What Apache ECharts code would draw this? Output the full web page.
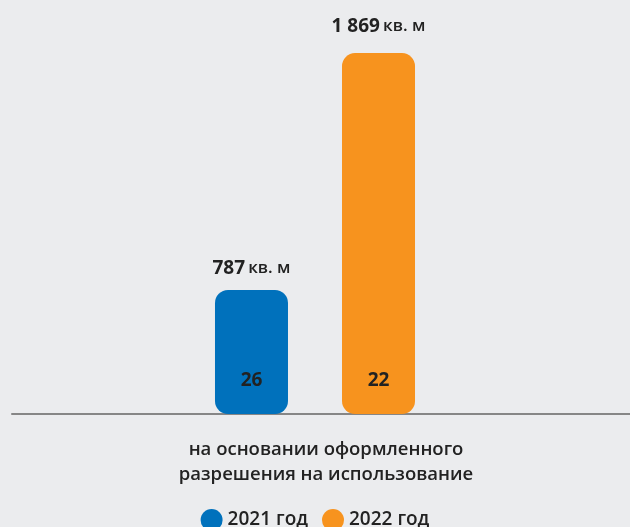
<!DOCTYPE html>
<html><head><meta charset="utf-8">
<script src="https://cdn.jsdelivr.net/npm/echarts@6/dist/echarts.min.js"></script>
<style>html,body{margin:0;padding:0;background:#ebecee;}#c{width:630px;height:527px;}</style>
</head><body><div id="c"></div>
<script>
const categories = ['на основании оформленного\nразрешения на использование'];
const seriesNames = ['2021 год', '2022 год'];
const areaValues = [787, 1869];   // кв. м
const countValues = [26, 22];
const colors = ['#0071bc', '#f7931e'];
const unit = 'кв. м';

const chart = echarts.init(document.getElementById('c'));
const font = 'Open Sans';
const topLabelDistance = [12, 17];
chart.setOption({
  backgroundColor: '#ebecee',
  animation: false,
  textStyle: { fontFamily: font },
  legend: {
    data: seriesNames,
    top: 504, left: 'center',
    icon: 'circle', itemWidth: 22, itemHeight: 22, itemGap: 14,
    textStyle: { fontSize: 19, fontWeight: 600, color: '#222', fontFamily: font, padding: [3, 0, 0, 0] }
  },
  grid: [
    { left: -2, right: 0, top: 20, bottom: 113 },
    { left: 12, right: 0, top: 20, bottom: 113 }
  ],
  xAxis: [
    { type: 'category', gridIndex: 0, data: categories, axisLine: { show: false }, axisTick: { show: false }, axisLabel: { show: false } },
    { type: 'category', gridIndex: 1, data: categories,
      axisLine: { lineStyle: { color: '#868686', width: 2 } }, axisTick: { show: false },
      axisLabel: { margin: 23, fontSize: 18.5, fontWeight: 600, color: '#222', lineHeight: 25, fontFamily: font, padding: [0, 0, 0, 10] } }
  ],
  yAxis: [
    { type: 'value', gridIndex: 0, min: 221, max: 2020, show: false, splitLine: { show: false } },
    { type: 'value', gridIndex: 1, min: 0, max: 1, show: false, splitLine: { show: false } }
  ],
  series: seriesNames.map((name, i) => ({
    name: name,
    type: 'bar',
    xAxisIndex: 0, yAxisIndex: 0,
    barWidth: 73,
    barGap: '74%',
    data: [areaValues[i]],
    itemStyle: { color: colors[i], borderRadius: 13 },
    label: {
      show: true, position: 'insideBottom', distance: 24,
      formatter: () => String(countValues[i]),
      fontSize: 19, fontWeight: 700, color: '#222', fontFamily: font
    },
    markPoint: {
      symbol: 'circle', symbolSize: 0,
      data: [{ type: 'max' }],
      label: {
        show: true, position: 'top', distance: topLabelDistance[i],
        formatter: (p) => '{n|' + p.value.toLocaleString('ru-RU').replace(/\s/g, ' ') + '} {u|' + unit + '}',
        rich: {
          n: { fontSize: 19, fontWeight: 700, color: '#222', fontFamily: font },
          u: { fontSize: 17, fontWeight: 600, color: '#222', fontFamily: font }
        }
      }
    }
  }))
});
</script></body></html>
